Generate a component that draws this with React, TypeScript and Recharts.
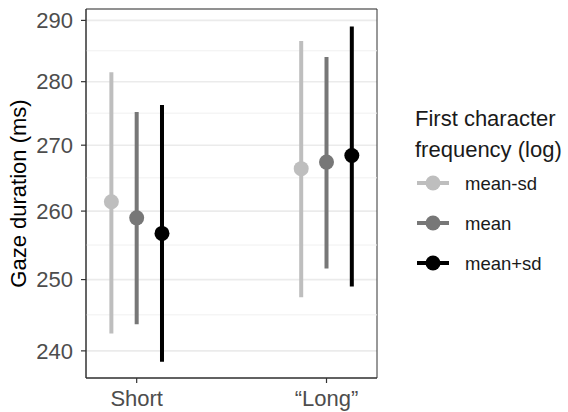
import React from 'react';
import {
  ComposedChart,
  Scatter,
  ErrorBar,
  XAxis,
  YAxis,
  CartesianGrid,
  ReferenceLine,
  ReferenceArea,
} from 'recharts';

const categories = ['Short', '\u201cLong\u201d'];
const seriesNames = ['mean-sd', 'mean', 'mean+sd'];
const seriesColors = ['#bebebe', '#777777', '#000000'];

// gaze duration (ms) for Short / "Long", one row per series
const meanValues = [
  [261.4, 266.4],
  [259.0, 267.4],
  [256.7, 268.4],
];
const lowerValues = [
  [242.4, 247.5],
  [243.7, 251.6],
  [238.5, 249.0],
];
const upperValues = [
  [281.5, 286.6],
  [275.2, 284.0],
  [276.3, 289.0],
];

const majorTicks = [240, 250, 260, 270, 280, 290];
const minorTicks = [245, 255, 265, 275, 285];

const FONT = '"Liberation Sans", Arial, Helvetica, sans-serif';
const X_DOMAIN: [number, number] = [0.733, 2.266];
const Y_DOMAIN: [number, number] = [236.3, 291.9];
const DODGE = 0.4 / 3; // position_dodge(0.4) with 3 groups

// rows for each series: x = category position + dodge offset
const seriesData = seriesNames.map((_, s) =>
  categories.map((cat, i) => ({
    cat,
    x: i + 1 + (s - 1) * DODGE,
    mean: meanValues[s][i],
    err: [meanValues[s][i] - lowerValues[s][i], upperValues[s][i] - meanValues[s][i]],
  }))
);

const Legend = () => (
  <svg
    width={160}
    height={200}
    style={{ position: 'absolute', left: 410, top: 100, fontFamily: FONT }}
  >
    <text x={5} y={26} fontSize={22} fill="#1a1a1a">First character</text>
    <text x={5} y={57} fontSize={22} fill="#1a1a1a">frequency (log)</text>
    {seriesNames.map((name, s) => {
      const cy = 83 + s * 40;
      return (
        <g key={name}>
          <line x1={7} x2={39} y1={cy} y2={cy} stroke={seriesColors[s]} strokeWidth={4} />
          <circle cx={23} cy={cy} r={7.5} fill={seriesColors[s]} />
          <text x={55} y={cy} fontSize={18.5} dominantBaseline="central" fill="#1a1a1a">
            {name}
          </text>
        </g>
      );
    })}
  </svg>
);

export default function App() {
  return (
    <div style={{ position: 'absolute', left: 0, top: 0, width: 568, height: 412, background: '#fff', fontFamily: FONT }}>
      <ComposedChart
        width={568}
        height={412}
        margin={{ top: 9, right: 191, bottom: 0, left: 0 }}
      >
        <CartesianGrid vertical={false} stroke="#ebebeb" strokeWidth={1.6} />
        {minorTicks.map((v) => (
          <ReferenceLine key={v} y={v} stroke="#f0f0f0" strokeWidth={1} />
        ))}
        <XAxis
          dataKey="x"
          type="number"
          domain={X_DOMAIN}
          allowDataOverflow
          ticks={[1, 2]}
          tickFormatter={(v: number) => categories[Math.round(v) - 1]}
          height={34}
          tickSize={5}
          tickMargin={7}
          axisLine={{ stroke: '#333', strokeWidth: 1 }}
          tickLine={{ stroke: '#333', strokeWidth: 1.2 }}
          tick={{ fill: '#4d4d4d', fontSize: 22, fontFamily: FONT }}
        />
        <YAxis
          type="number"
          scale="log"
          domain={Y_DOMAIN}
          allowDataOverflow
          ticks={majorTicks}
          width={86}
          tickSize={5}
          tickMargin={8}
          axisLine={{ stroke: '#333', strokeWidth: 1 }}
          tickLine={{ stroke: '#333', strokeWidth: 1.2 }}
          tick={{ fill: '#4d4d4d', fontSize: 22, fontFamily: FONT }}
          label={{
            content: ({ viewBox }: any) => {
              const cx = 18;
              const cy = viewBox.y + viewBox.height / 2;
              return (
                <text
                  x={cx}
                  y={cy}
                  transform={`rotate(-90, ${cx}, ${cy})`}
                  textAnchor="middle"
                  dominantBaseline="central"
                  fontSize={22}
                  fontFamily={FONT}
                  fill="#000"
                >
                  Gaze duration (ms)
                </text>
              );
            },
          }}
        />
        <ReferenceArea
          x1={X_DOMAIN[0]}
          x2={X_DOMAIN[1]}
          y1={Y_DOMAIN[0]}
          y2={Y_DOMAIN[1]}
          fill="none"
          fillOpacity={0}
          stroke="#333"
          strokeWidth={1}
        />
        {seriesNames.map((name, s) => (
          <Scatter
            key={name}
            name={name}
            data={seriesData[s]}
            dataKey="mean"
            fill={seriesColors[s]}
            isAnimationActive={false}
            shape={(p: any) => <circle cx={p.cx} cy={p.cy} r={7.5} fill={seriesColors[s]} />}
          >
            <ErrorBar
              dataKey="err"
              direction="y"
              width={0}
              stroke={seriesColors[s]}
              strokeWidth={4}
              isAnimationActive={false}
            />
          </Scatter>
        ))}
      </ComposedChart>
      <Legend />
    </div>
  );
}
